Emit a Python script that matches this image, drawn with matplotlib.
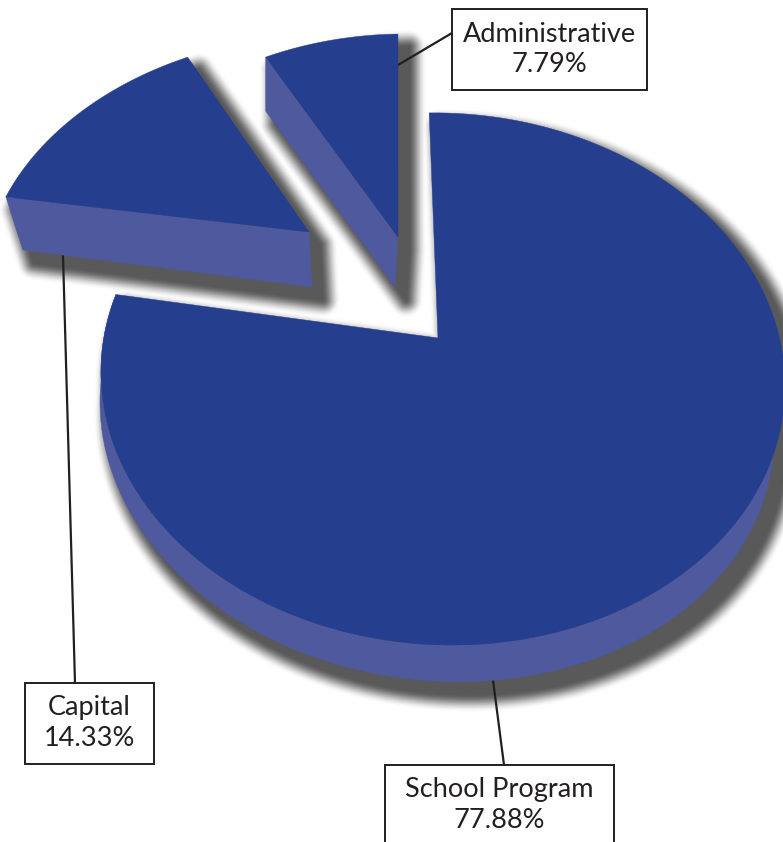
import numpy as np
import matplotlib
matplotlib.use("Agg")
import matplotlib.pyplot as plt
from matplotlib.patches import Polygon, Rectangle

plt.rcParams["font.family"] = ["Lato", "DejaVu Sans"]

# chart data
labels = ["School Program", "Capital", "Administrative"]
shares = [77.88, 14.33, 7.79]
pct_labels = ["77.88%", "14.33%", "7.79%"]

TOP = "#253e8d"
SIDE = "#4e5a9d"
INK = "#231f20"

# layout per slice, in pixels
apexes = [(438, 338), (309, 232), (398, 237)]
centers = [(443, 338), (309, 232), (398, 237)]
tilts = [
    [[1.0, 0.0], [0.02, 1.0]],
    [[0.9376, -0.0942], [0.0084, 0.875]],
    [[0.943, -0.0427], [0.0065, 0.902]],
]
start_angle = -2.0
main_start = -2.7

# perspective of the disc
BX, BY, PERSP = 338.0, 259.7, 0.154


def rim(center, tilt, a0, a1, n=160):
    t = np.radians(np.linspace(a0, a1, n))
    u, v = np.sin(t), np.cos(t)
    w = 1 + PERSP * v
    xy = np.column_stack([BX * u / w, -BY * v / w])
    return np.array(center) + xy @ np.array(tilt).T


fig = plt.figure(figsize=(7.83, 8.42), dpi=100)
ax = fig.add_axes([0, 0, 1, 1])
ax.set_xlim(0, 783)
ax.set_ylim(842, 0)
ax.axis("off")

edges = np.cumsum([0] + shares) * 3.6 + start_angle
tops = []
sides = []
for i in range(3):
    a0 = main_start if i == 0 else edges[i]
    r = rim(centers[i], tilts[i], a0, edges[i + 1])
    apex = np.array(apexes[i], dtype=float)
    tops.append(np.vstack([apex, r]))
    if i == 0:
        # lower rim of the big slice, a bit smaller and pushed down
        angles = np.linspace(a0, edges[1], len(r))
        front = r[angles > 70]
        low = apex + 0.985 * (front - apex) + np.array([-6, 40.6])
        low[:, 1] += 0.03 * (front[:, 0] - apex[0])
        sides.append(np.vstack([front, low[::-1]]))
    elif i == 1:
        sides.append(np.array([r[0], apex, apex + [3, 55], r[0] + [17, 53]]))
    else:
        sides.append(np.array([r[0], apex, apex + [-3, 50], r[0] + [0, 54]]))

# soft shadow: opaque rings, light to dark, all slices per ring
shadow_off = np.array([11, 13])
blur = 18
dark = 0.35
for k in np.linspace(1, 0, 24):
    fade = 1 - (3 * (1 - k) ** 2 - 2 * (1 - k) ** 3)
    grey = str(dark + (1 - dark) * fade)
    for i in range(3):
        for poly in (tops[i], sides[i]):
            ax.add_patch(Polygon(poly + shadow_off, closed=True, fc=grey, ec=grey,
                                 lw=max(k * blur * 2 * 0.72, 0.1),
                                 joinstyle="round", zorder=1))

# leader lines
ax.plot([398, 452], [65, 33], color=INK, lw=1.6, zorder=2)
ax.plot([63, 75], [255, 683], color=INK, lw=1.6, zorder=2)
ax.plot([493, 504], [680, 765], color=INK, lw=1.6, zorder=2)

for i in range(3):
    ax.add_patch(Polygon(sides[i], closed=True, fc=SIDE, ec=SIDE, lw=0.3, zorder=3))
    ax.add_patch(Polygon(tops[i], closed=True, fc=TOP, ec=TOP, lw=0.3, zorder=4))

# callout boxes
boxes = [(385, 765, 229, 90), (25, 683, 129, 81), (452, 9, 195, 81)]
for i in range(3):
    x, y, w, h = boxes[i]
    ax.add_patch(Rectangle((x, y), w, h, fc="white", ec=INK, lw=1.4, zorder=5))
    ax.text(x + w / 2, y + 25, labels[i], ha="center", va="center", fontsize=19.5, color=INK, zorder=6)
    ax.text(x + w / 2, y + 55, pct_labels[i], ha="center", va="center", fontsize=19.5, color=INK, zorder=6)

fig.savefig("out.png", dpi=100)
